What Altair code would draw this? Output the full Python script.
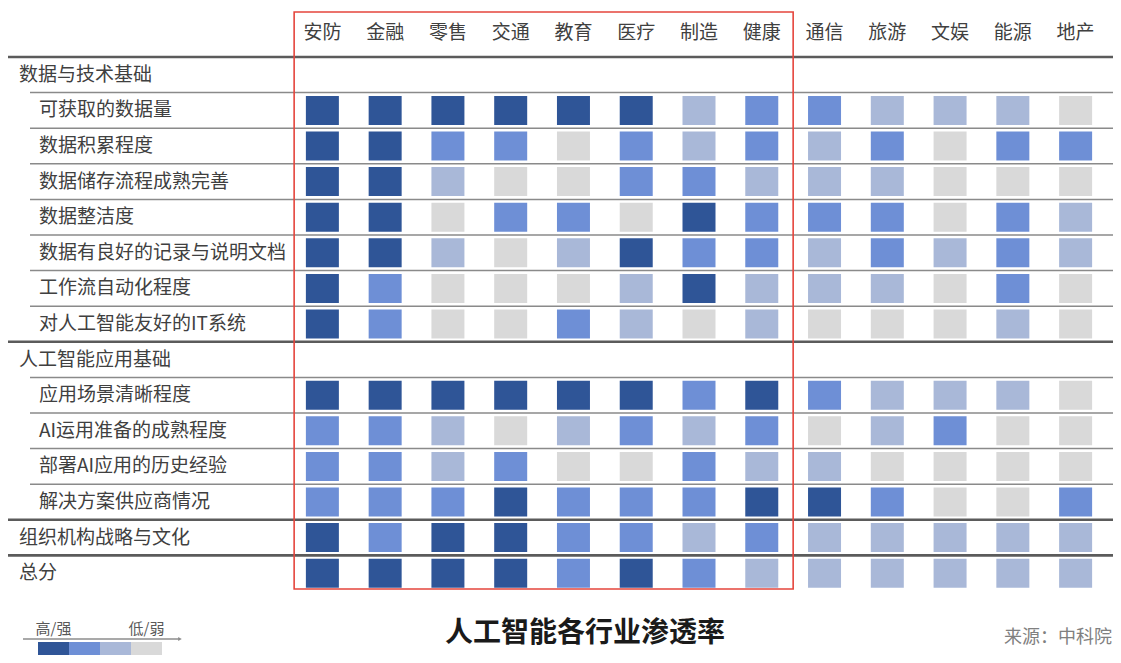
import altair as alt
import pandas as pd

FONT = "Noto Sans CJK SC"

industries = ["安防", "金融", "零售", "交通", "教育", "医疗", "制造", "健康",
              "通信", "旅游", "文娱", "能源", "地产"]

row_names = ["数据与技术基础", "可获取的数据量", "数据积累程度", "数据储存流程成熟完善",
             "数据整洁度", "数据有良好的记录与说明文档", "工作流自动化程度",
             "对人工智能友好的IT系统", "人工智能应用基础", "应用场景清晰程度",
             "AI运用准备的成熟程度", "部署AI应用的历史经验", "解决方案供应商情况",
             "组织机构战略与文化", "总分"]
row_kinds = ["top", "item", "item", "item", "item", "item", "item", "item",
             "top", "item", "item", "item", "item", "top", "top"]

# 4 = 高/强 ... 1 = 低/弱
lv_available = [4, 4, 4, 4, 4, 4, 2, 3, 3, 2, 2, 2, 1]
lv_accumulation = [4, 4, 3, 3, 1, 3, 2, 3, 2, 3, 1, 3, 3]
lv_storage = [4, 4, 2, 1, 1, 3, 3, 2, 2, 2, 1, 1, 1]
lv_cleanliness = [4, 4, 1, 3, 3, 1, 4, 3, 3, 3, 1, 3, 2]
lv_documentation = [4, 4, 2, 1, 2, 4, 3, 3, 2, 3, 2, 3, 2]
lv_workflow = [4, 3, 1, 1, 1, 2, 4, 2, 2, 2, 1, 3, 1]
lv_it_system = [4, 3, 1, 1, 3, 2, 1, 2, 1, 1, 1, 2, 1]
lv_scenario = [4, 4, 4, 4, 4, 4, 3, 4, 3, 2, 2, 2, 1]
lv_readiness = [3, 3, 2, 1, 2, 3, 2, 3, 1, 2, 3, 1, 1]
lv_experience = [3, 3, 2, 3, 1, 1, 3, 2, 2, 1, 1, 1, 1]
lv_vendors = [3, 3, 3, 4, 3, 3, 3, 4, 4, 3, 1, 1, 3]
lv_strategy = [4, 3, 4, 4, 3, 3, 2, 3, 2, 2, 2, 2, 2]
lv_total = [4, 4, 4, 4, 3, 4, 3, 2, 2, 2, 2, 2, 2]

row_levels = {
    "可获取的数据量": lv_available,
    "数据积累程度": lv_accumulation,
    "数据储存流程成熟完善": lv_storage,
    "数据整洁度": lv_cleanliness,
    "数据有良好的记录与说明文档": lv_documentation,
    "工作流自动化程度": lv_workflow,
    "对人工智能友好的IT系统": lv_it_system,
    "应用场景清晰程度": lv_scenario,
    "AI运用准备的成熟程度": lv_readiness,
    "部署AI应用的历史经验": lv_experience,
    "解决方案供应商情况": lv_vendors,
    "组织机构战略与文化": lv_strategy,
    "总分": lv_total,
}

legend_levels = [4, 3, 2, 1]
legend_colors = ["#2f5597", "#6e8fd6", "#a9b8d8", "#d9d9d9"]
legend_labels = ["高/强", "", "", "低/弱"]

highlight = {"start": ["安防"], "end": ["健康"]}

title_text = "人工智能各行业渗透率"
source_text = "来源：中科院"

# ---------------------------------------------------------------- tables
cells = pd.DataFrame(
    [{"row": r, "industry": ind, "level": lv}
     for r, lvls in row_levels.items()
     for ind, lv in zip(industries, lvls)]
)
rows = pd.DataFrame({"row": row_names, "kind": row_kinds})
legend_df = pd.DataFrame({"level": legend_levels, "label": legend_labels})
box_df = pd.DataFrame(highlight)
note_df = pd.DataFrame({"title": [title_text], "source": [source_text]})

W, H = 1105, 534

xscale = alt.Scale(domain=industries, range=[283, 1099], paddingInner=0,
                   paddingOuter=0, round=False)
yscale = alt.Scale(domain=row_names, range=[0, H], paddingInner=0,
                   paddingOuter=0, round=False)
cscale = alt.Scale(domain=legend_levels, range=legend_colors)
lscale = alt.Scale(domain=legend_levels, range=[30, 154], paddingInner=0,
                   paddingOuter=0, round=False)

ypos = alt.Y("row:N", scale=yscale, axis=None)
yline = alt.Y("row:N", scale=yscale, axis=None, bandPosition=0)

thick_rules = alt.Chart(rows).transform_filter(alt.datum.kind == "top").mark_rule(
    color="#5b5b5b", strokeWidth=2.6
).encode(y=yline, x=alt.value(0), x2=alt.value(W))

thin_rules = alt.Chart(rows).transform_filter(alt.datum.kind == "item").mark_rule(
    color="#8a8a8a", strokeWidth=1.5
).encode(y=yline, x=alt.value(22), x2=alt.value(W))

heat = alt.Chart(cells).mark_rect(width=33, height=29).encode(
    x=alt.X("industry:N", scale=xscale, title=None,
            axis=alt.Axis(orient="top", domain=False, ticks=False, tickSize=0,
                          labelAngle=0, labelFontSize=19, labelColor="#404040",
                          labelFont=FONT, labelPadding=15, grid=False)),
    y=ypos,
    color=alt.Color("level:O", scale=cscale, legend=None),
)

group_labels = alt.Chart(rows).transform_filter(alt.datum.kind == "top").mark_text(
    align="left", baseline="middle", fontSize=19, color="#404040", font=FONT
).encode(y=ypos, x=alt.value(11), text="row:N")

item_labels = alt.Chart(rows).transform_filter(alt.datum.kind == "item").mark_text(
    align="left", baseline="middle", fontSize=19, color="#404040", font=FONT
).encode(y=ypos, x=alt.value(31), text="row:N")

box = alt.Chart(box_df).mark_rect(
    fillOpacity=0, stroke="#e5463d", strokeWidth=1.6
).encode(
    x=alt.X("start:N", scale=xscale, axis=None, bandPosition=0.05),
    x2=alt.X2("end", bandPosition=1),
    y=alt.value(-45), y2=alt.value(532),
)

legend_rects = alt.Chart(legend_df).mark_rect().encode(
    x=alt.X("level:O", scale=lscale, axis=None),
    y=alt.value(585), y2=alt.value(620),
    color=alt.Color("level:O", scale=cscale, legend=None),
)

legend_text = alt.Chart(legend_df).mark_text(
    fontSize=15, color="#595959", font=FONT, baseline="middle"
).encode(
    x=alt.X("level:O", scale=lscale, axis=None),
    y=alt.value(572),
    text="label:N",
)

legend_arrow = alt.Chart(legend_df.head(1)).mark_rule(color="#8c8c8c", strokeWidth=1.3).encode(
    x=alt.value(15), x2=alt.value(171), y=alt.value(582)
)
legend_tip = alt.Chart(legend_df.head(1)).mark_point(
    shape="triangle-right", filled=True, size=18, color="#8c8c8c", opacity=1
).encode(x=alt.value(172), y=alt.value(582))

title = alt.Chart(note_df).mark_text(
    fontSize=28, fontWeight="bold", color="#1a1a1a", font=FONT, baseline="middle"
).encode(x=alt.value(577), y=alt.value(577), text="title:N")

source = alt.Chart(note_df).mark_text(
    fontSize=18, color="#808080", font=FONT, align="right", baseline="middle"
).encode(x=alt.value(1104), y=alt.value(581), text="source:N")

chart = alt.layer(
    thin_rules, thick_rules, heat, group_labels, item_labels, box,
    legend_rects, legend_text, legend_arrow, legend_tip, title, source
).resolve_scale(x="independent").properties(
    width=W, height=H,
    autosize=alt.AutoSizeParams(type="none"),
    padding={"left": 0, "top": 49, "right": 0, "bottom": 64},
    background="white",
).configure_view(stroke=None).configure_text(font=FONT)

chart.save("out.html", embed_options={"renderer": "svg", "actions": False})
